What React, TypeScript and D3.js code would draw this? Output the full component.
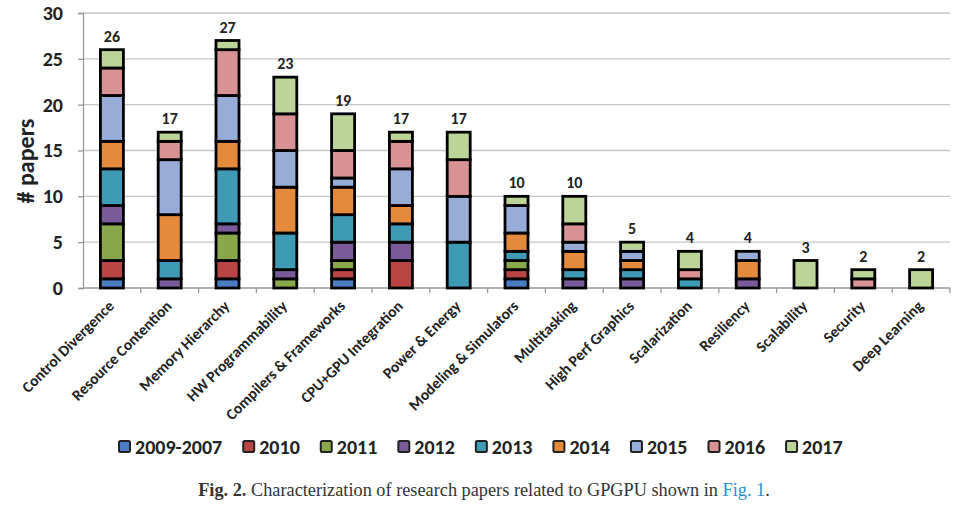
import React, { useEffect, useRef } from 'react';
import * as d3 from 'd3';

const categories = [
  'Control Divergence', 'Resource Contention', 'Memory Hierarchy', 'HW Programmability',
  'Compilers & Frameworks', 'CPU+GPU Integration', 'Power & Energy', 'Modeling & Simulators',
  'Multitasking', 'High Perf Graphics', 'Scalarization', 'Resiliency', 'Scalability',
  'Security', 'Deep Learning',
];

const years = ['2009-2007', '2010', '2011', '2012', '2013', '2014', '2015', '2016', '2017'];

// one array per year, values in category order
const y2009 = [1, 0, 1, 0, 1, 0, 0, 1, 0, 0, 0, 0, 0, 0, 0];
const y2010 = [2, 0, 2, 0, 1, 3, 0, 1, 0, 0, 0, 0, 0, 0, 0];
const y2011 = [4, 0, 3, 1, 1, 0, 0, 1, 0, 0, 0, 0, 0, 0, 0];
const y2012 = [2, 1, 1, 1, 2, 2, 0, 0, 1, 1, 0, 1, 0, 0, 0];
const y2013 = [4, 2, 6, 4, 3, 2, 5, 1, 1, 1, 1, 0, 0, 0, 0];
const y2014 = [3, 5, 3, 5, 3, 2, 0, 2, 2, 1, 0, 2, 0, 0, 0];
const y2015 = [5, 6, 5, 4, 1, 4, 5, 3, 1, 1, 0, 1, 0, 0, 0];
const y2016 = [3, 2, 5, 4, 3, 3, 4, 0, 2, 0, 1, 0, 0, 1, 0];
const y2017 = [2, 1, 1, 4, 4, 1, 3, 1, 3, 1, 2, 0, 3, 1, 2];

const series = [y2009, y2010, y2011, y2012, y2013, y2014, y2015, y2016, y2017];

const colors = ['#4a7dc4', '#b84443', '#8aa84a', '#7a5a98', '#3e9ab5', '#e48a3c', '#98acd8', '#d99293', '#bcd498'];

const yTicks = [0, 5, 10, 15, 20, 25, 30];

const font = 'Carlito, "Noto Sans", sans-serif';

const App = () => {
  const ref = useRef(null);

  useEffect(() => {
    const svg = d3.select(ref.current);
    svg.selectAll('*').remove();

    const left = 83, right = 950, top = 13, bottom = 288;

    const x = d3.scaleBand().domain(categories).range([left, right]);
    const y = d3.scaleLinear().domain([0, 30]).range([bottom, top]);

    const rows = categories.map((c, i) => {
      const r = { cat: c };
      years.forEach((yr, k) => { r[yr] = series[k][i]; });
      return r;
    });
    const stacked = d3.stack().keys(years)(rows);

    // grid
    svg.append('g')
      .selectAll('line')
      .data(yTicks.slice(1))
      .join('line')
      .attr('x1', left).attr('x2', right)
      .attr('y1', d => y(d)).attr('y2', d => y(d))
      .attr('stroke', '#c6c6c6').attr('stroke-width', 1.3);

    // y axis
    const yAxis = svg.append('g')
      .attr('transform', `translate(${left},0)`)
      .call(d3.axisLeft(y).tickValues(yTicks).tickSize(5).tickPadding(15));
    yAxis.select('.domain').attr('stroke', '#999').attr('stroke-width', 1.3);
    yAxis.selectAll('.tick line').attr('stroke', '#999').attr('stroke-width', 1.3);
    yAxis.selectAll('text')
      .attr('font-family', font).attr('font-size', 20).attr('font-weight', 'bold').attr('fill', '#222');

    // x axis
    const xAxis = svg.append('g').attr('transform', `translate(0,${bottom})`);
    xAxis.append('line')
      .attr('x1', left).attr('x2', right)
      .attr('stroke', '#999').attr('stroke-width', 1.3);
    xAxis.selectAll('.xt')
      .data(categories)
      .join('line')
      .attr('x1', (d, i) => left + x.step() * (i + 1))
      .attr('x2', (d, i) => left + x.step() * (i + 1))
      .attr('y1', 0).attr('y2', 5)
      .attr('stroke', '#999').attr('stroke-width', 1.3);

    xAxis.selectAll('text')
      .data(categories)
      .join('text')
      .attr('transform', d => `translate(${x(d) + x.bandwidth() / 2 + 3},${19}) rotate(-45)`)
      .attr('text-anchor', 'end')
      .attr('font-family', font).attr('font-size', 15.5).attr('font-weight', 'bold').attr('fill', '#222')
      .text(d => d);

    // bars
    const barW = 23;
    svg.append('g')
      .selectAll('g')
      .data(stacked)
      .join('g')
      .attr('fill', (d, i) => colors[i])
      .selectAll('rect')
      .data(d => d.filter(s => s[1] - s[0] > 0))
      .join('rect')
      .attr('x', d => x(d.data.cat) + x.bandwidth() / 2 - barW / 2)
      .attr('y', d => y(d[1]))
      .attr('width', barW)
      .attr('height', d => y(d[0]) - y(d[1]))
      .attr('stroke', '#000').attr('stroke-width', 2.8);

    // totals
    svg.append('g')
      .selectAll('text')
      .data(rows)
      .join('text')
      .attr('x', d => x(d.cat) + x.bandwidth() / 2)
      .attr('y', d => y(d3.sum(years, k => d[k])) - 8)
      .attr('text-anchor', 'middle')
      .attr('font-family', font).attr('font-size', 16).attr('font-weight', 'bold').attr('fill', '#222')
      .text(d => d3.sum(years, k => d[k]));

    // y label
    svg.append('text')
      .attr('transform', 'translate(34,161) rotate(-90)')
      .attr('text-anchor', 'middle')
      .attr('font-family', font).attr('font-size', 24).attr('font-weight', 'bold').attr('fill', '#222')
      .text('# papers');

    // legend, laid out in a row
    const lg = svg.append('g').attr('transform', 'translate(118,440)');
    let cx = 0;
    years.forEach((yr, i) => {
      const item = lg.append('g').attr('transform', `translate(${cx},0)`);
      item.append('rect')
        .attr('x', 1).attr('y', 1)
        .attr('width', 11).attr('height', 11).attr('rx', 1.5)
        .attr('fill', colors[i])
        .attr('stroke', '#222').attr('stroke-width', 2);
      const t = item.append('text')
        .attr('x', 17).attr('y', 13.5)
        .attr('font-family', font).attr('font-size', 20).attr('font-weight', 'bold').attr('fill', '#222')
        .text(yr);
      cx += 17 + t.node().getComputedTextLength() + 20;
    });

    // caption
    const cap = svg.append('text')
      .attr('x', 484).attr('y', 496)
      .attr('text-anchor', 'middle')
      .attr('font-family', '"Liberation Serif", serif').attr('font-size', 18.3).attr('fill', '#333');
    cap.append('tspan').attr('font-weight', 'bold').text('Fig. 2.');
    cap.append('tspan').text('  Characterization of research papers related to GPGPU shown in ');
    cap.append('tspan').attr('fill', '#2a8fd0').text('Fig. 1');
    cap.append('tspan').text('.');
  }, []);

  return (
    <svg ref={ref} width={979} height={505}
      style={{ position: 'absolute', left: 0, top: 0, background: '#fff' }} />
  );
};

export default App;
